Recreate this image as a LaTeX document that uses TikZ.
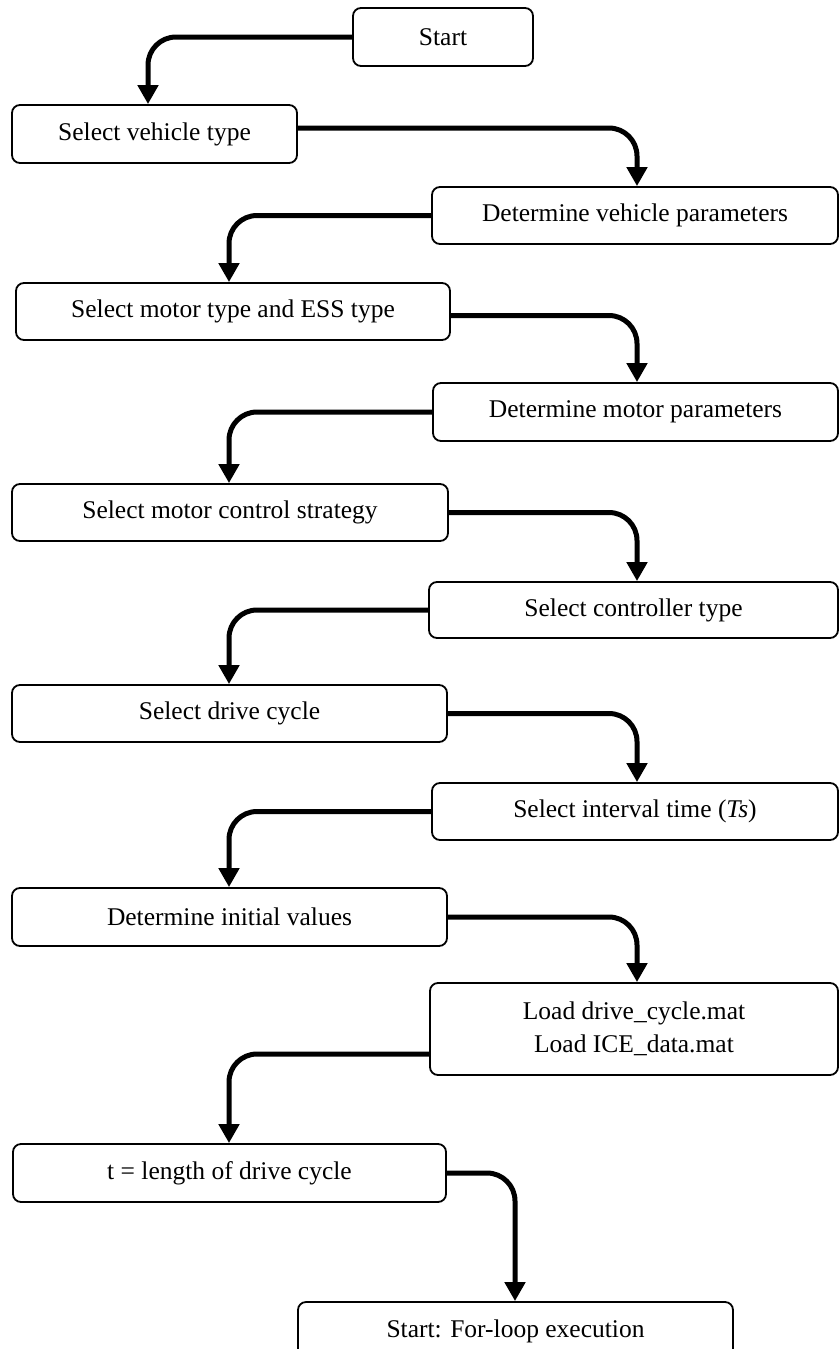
\documentclass[tikz,border=0pt]{standalone}
\usepackage{fontspec}
\setmainfont{Liberation Serif}
\usetikzlibrary{arrows.meta}
\begin{document}
\begin{tikzpicture}[x=1pt,y=-1pt,
  box/.style={draw, line width=1.8pt, rounded corners=8pt, inner sep=0pt,
    align=center, font=\fontsize{25.5}{33}\selectfont},
  flow/.style={line width=5pt, rounded corners=28pt,
    -{Triangle[width=20pt,length=19pt]}}]
\useasboundingbox (0,0) rectangle (840,1349);
\clip (0,0) rectangle (840,1349);

% process steps
\node[box, minimum width=180pt, minimum height=58pt] (S)  at (443,37)    {Start};
\node[box, minimum width=285pt, minimum height=58pt] (L1) at (154.5,134) {Select vehicle type};
\node[box, minimum width=406pt, minimum height=57pt] (R1) at (635,215.5) {Determine vehicle parameters};
\node[box, minimum width=434pt, minimum height=57pt] (L2) at (233,311.5) {Select motor type and ESS type};
\node[box, minimum width=405pt, minimum height=58pt] (R2) at (635.5,412) {Determine motor parameters};
\node[box, minimum width=436pt, minimum height=57pt] (L3) at (230,512.5) {Select motor control strategy};
\node[box, minimum width=409pt, minimum height=56pt] (R3) at (633.5,610) {Select controller type};
\node[box, minimum width=435pt, minimum height=57pt] (L4) at (229.5,713.5) {Select drive cycle};
\node[box, minimum width=406pt, minimum height=57pt] (R4) at (635,811.5) {Select interval time (\textit{Ts})};
\node[box, minimum width=435pt, minimum height=58pt] (L5) at (229.5,917) {Determine initial values};
\node[box, minimum width=408pt, minimum height=92pt] (R5) at (634,1029)  {Load drive\_cycle.mat\\Load ICE\_data.mat};
\node[box, minimum width=433pt, minimum height=58pt] (L6) at (229.5,1173) {t = length of drive cycle};
\node[box, minimum width=435pt, minimum height=58pt] (B)  at (515.5,1331) {Start: For-loop execution};

% drop columns of the connectors
\coordinate (xa) at (148,0);
\coordinate (xl) at (229,0);
\coordinate (xr) at (637,0);
\coordinate (xb) at (515,0);

% connectors
\draw[flow] (S.west) -| (xa |- L1.north);
\draw[flow] ([yshift=6pt]L1.east) -| (xr |- R1.north);
\draw[flow] (R1.west) -| (xl |- L2.north);
\draw[flow] ([yshift=-4pt]L2.east) -| (xr |- R2.north);
\draw[flow] (R2.west) -| (xl |- L3.north);
\draw[flow] (L3.east) -| (xr |- R3.north);
\draw[flow] (R3.west) -| (xl |- L4.north);
\draw[flow] (L4.east) -| (xr |- R4.north);
\draw[flow] (R4.west) -| (xl |- L5.north);
\draw[flow] (L5.east) -| (xr |- R5.north);
\draw[flow] ([yshift=-25pt]R5.west) -| (xl |- L6.north);
\draw[flow] (L6.east) -| (xb |- B.north);
\end{tikzpicture}
\end{document}
